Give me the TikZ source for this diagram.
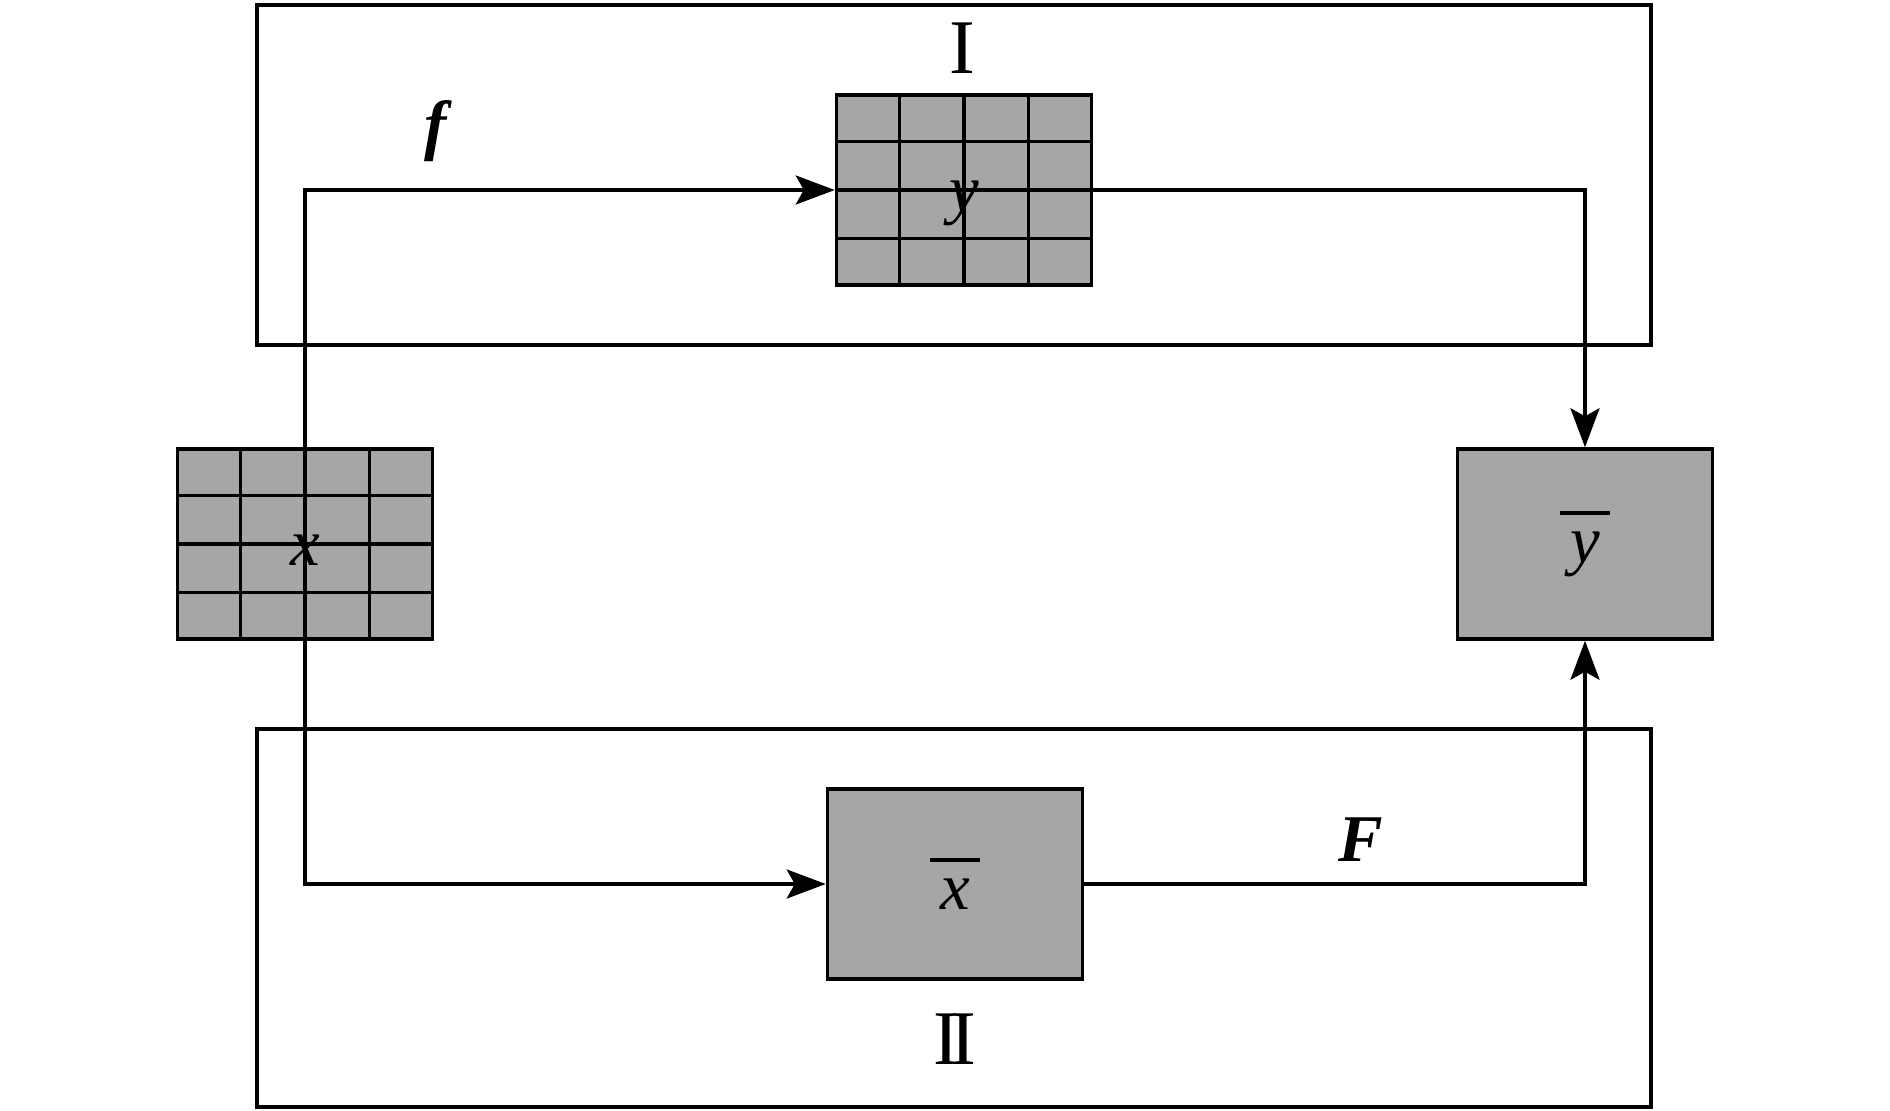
\documentclass[tikz,border=0pt]{standalone}
\usepackage{fontspec}
\setmainfont{Liberation Serif}
\usetikzlibrary{arrows.meta,calc}

\newcommand{\barred}[1]{\shortstack{\rule{0.75em}{0.055em}\\[0.18em]\textit{#1}}}

\begin{document}
\begin{tikzpicture}[x=0.02cm,y=-0.02cm,line width=2pt,
		box/.style={rectangle,draw,fill=black!35,minimum width=5.1cm,minimum height=3.8cm,inner sep=0pt,font=\fontsize{38}{46}\selectfont},
		gridbox/.style={box,text height=25pt,text depth=0pt},
		lbl/.style={inner sep=0pt,font=\fontsize{38}{46}\selectfont},
		num/.style={inner sep=0pt,font=\fontsize{44}{52}\selectfont},
		>={Stealth[length=0.78cm,width=0.58cm,inset=0.16cm]}]
		\useasboundingbox (0,0) rectangle (1890,1110);

		% frames I and II
		\draw (257,5) rectangle (1651,345);
		\draw (257,729) rectangle (1651,1107);

		\node[gridbox] (gx) at (305,544) {\textit{x}};
		\node[gridbox] (gy) at (964,190) {\textit{y}};
		\node[box] (xbar) at (955,884) {\barred{x}};
		\node[box] (ybar) at (1585,544) {\barred{y}};

		\foreach \b in {gx,gy}
			\foreach \i in {1,2,3} {
				\draw ($(\b.north west)!\i/4!(\b.north east)$) -- ($(\b.south west)!\i/4!(\b.south east)$);
				\draw ($(\b.north west)!\i/4!(\b.south west)$) -- ($(\b.north east)!\i/4!(\b.south east)$);
			}

		\node[lbl] (f) at (438,131) {\textbf{\textit{f}}};
		\node[lbl] (F) at (1361,840) {\textbf{\textit{F}}};
		\node[num] (one) at (962,48) {I};
		\node[num] (two) at (955,1039) {I\kern-0.12em I};

		\draw[->] (gx.north) |- (gy.west);
		\draw[->] (gy.east) -| (ybar.north);
		\draw[->] (gx.south) |- (xbar.west);
		\draw[->] (xbar.east) -| (ybar.south);
	\end{tikzpicture}
\end{document}
